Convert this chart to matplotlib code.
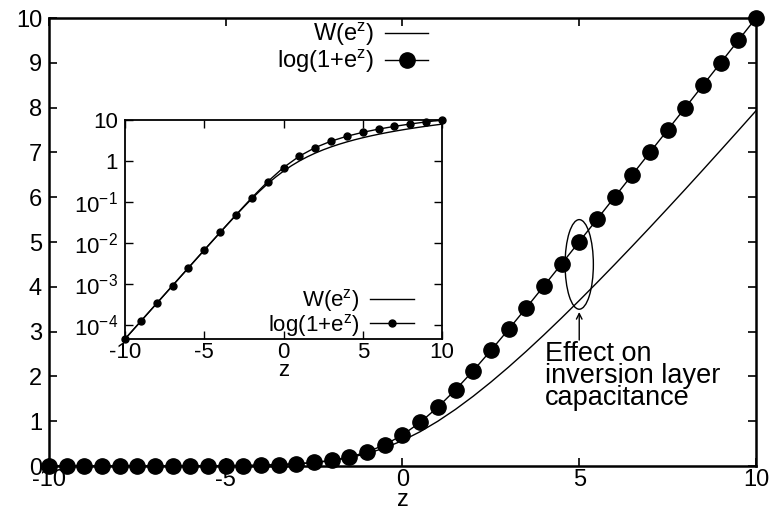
import matplotlib
matplotlib.use("Agg")
import matplotlib.pyplot as plt
from matplotlib.patches import Ellipse

plt.rcParams['font.family'] = ['Liberation Sans', 'DejaVu Sans']
plt.rcParams['mathtext.default'] = 'regular'
plt.rcParams['axes.unicode_minus'] = False

# z grid used for both curves
z = [-10.0, -9.5, -9.0, -8.5, -8.0, -7.5, -7.0, -6.5, -6.0, -5.5, -5.0,
     -4.5, -4.0, -3.5, -3.0, -2.5, -2.0, -1.5, -1.0, -0.5, 0.0,
     0.5, 1.0, 1.5, 2.0, 2.5, 3.0, 3.5, 4.0, 4.5, 5.0,
     5.5, 6.0, 6.5, 7.0, 7.5, 8.0, 8.5, 9.0, 9.5, 10.0]

# W(e^z)
w_ez = [4.540e-5, 7.485e-5, 1.234e-4, 2.034e-4, 3.353e-4, 5.528e-4, 9.111e-4,
        1.501e-3, 2.473e-3, 4.070e-3, 6.693e-3, 1.099e-2, 1.798e-2, 2.932e-2,
        4.748e-2, 7.607e-2, 0.1200, 0.1854, 0.2785, 0.4046, 0.5671,
        0.7663, 1.0000, 1.2649, 1.5571, 1.8727, 2.2079, 2.5600, 2.9263,
        3.3047, 3.6935, 4.0912, 4.4967, 4.9089, 5.3267, 5.7507, 6.1782,
        6.6112, 7.0480, 7.4868, 7.9294]

# log(1+e^z), the dotted series
log1p_ez = [4.540e-5, 7.485e-5, 1.234e-4, 2.035e-4, 3.354e-4, 5.529e-4, 9.115e-4,
            1.502e-3, 2.476e-3, 4.078e-3, 6.715e-3, 1.105e-2, 1.815e-2, 2.975e-2,
            4.859e-2, 7.889e-2, 0.1269, 0.2014, 0.3133, 0.4741, 0.6931,
            0.9741, 1.3133, 1.7014, 2.1269, 2.5789, 3.0486, 3.5297, 4.0181,
            4.5111, 5.0067, 5.5041, 6.0025, 6.5015, 7.0009, 7.5006, 8.0003,
            8.5002, 9.0001, 9.5001, 10.0000]

inset_yticks = [1e-4, 1e-3, 1e-2, 1e-1, 1, 10]
inset_ylabels = ['10$^{-4}$', '10$^{-3}$', '10$^{-2}$', '10$^{-1}$', '1', '10']

fig = plt.figure(figsize=(7.74, 5.12), dpi=100)

# main axes
ax = fig.add_axes([0.0633, 0.0898, 0.9134, 0.875])
ax.plot(z, w_ez, color='black', lw=1.0, label='W(e$^z$)')
ax.plot(z, log1p_ez, color='black', lw=1.0, marker='o', ms=11,
        label='log(1+e$^z$)', clip_on=False, zorder=3)
ax.set_xlim(-10, 10)
ax.set_ylim(0, 10)
ax.set_xticks([-10, -5, 0, 5, 10])
ax.set_yticks(range(0, 11))
ax.tick_params(direction='in', top=True, right=True, labelsize=17, length=6,
               width=1.2)
ax.tick_params(axis='x', pad=2)
ax.tick_params(axis='y', pad=5)
for s in ax.spines.values():
    s.set_linewidth(1.8)
ax.set_xlabel('z', fontsize=17, labelpad=-1)
ax.legend(loc='upper right', bbox_to_anchor=(0.55, 1.015), frameon=False,
          markerfirst=False, fontsize=17, handlelength=1.85, handletextpad=0.45,
          labelspacing=0.0, borderaxespad=0.0)

# annotation
ax.add_patch(Ellipse((5.0, 4.5), 0.8, 2.0, fill=False, color='black', lw=1.0))
ax.annotate('', xy=(5.0, 3.5), xytext=(5.0, 2.75),
            arrowprops=dict(arrowstyle='->', color='black', lw=1.0))
ax.text(4.03, 2.8, 'Effect on\ninversion layer\ncapacitance', fontsize=19.5,
        ha='left', va='top', linespacing=0.8)

# inset
ins = fig.add_axes([0.1615, 0.3379, 0.4096, 0.4277])
ins.plot(z, w_ez, color='black', lw=1.0, label='W(e$^z$)')
ins.plot(z[::2], log1p_ez[::2], color='black', lw=1.0, marker='o', ms=5,
         label='log(1+e$^z$)', clip_on=False, zorder=3)
ins.set_yscale('log')
ins.set_xlim(-10, 10)
ins.set_ylim(w_ez[0], 10)
ins.set_xticks([-10, -5, 0, 5, 10])
ins.set_yticks(inset_yticks)
ins.set_yticklabels(inset_ylabels)
ins.minorticks_off()
ins.tick_params(direction='in', top=True, right=True, labelsize=16, length=6,
                width=1.0)
ins.tick_params(axis='x', pad=2)
ins.tick_params(axis='y', pad=5)
for s in ins.spines.values():
    s.set_linewidth(1.3)
ins.set_xlabel('z', fontsize=16, labelpad=-2)
ins.legend(loc='lower right', bbox_to_anchor=(0.94, -0.04), frameon=False,
           markerfirst=False, fontsize=16, handlelength=2.0, handletextpad=0.45,
           labelspacing=-0.1, borderaxespad=0.0)

fig.savefig('out.png', dpi=100)
